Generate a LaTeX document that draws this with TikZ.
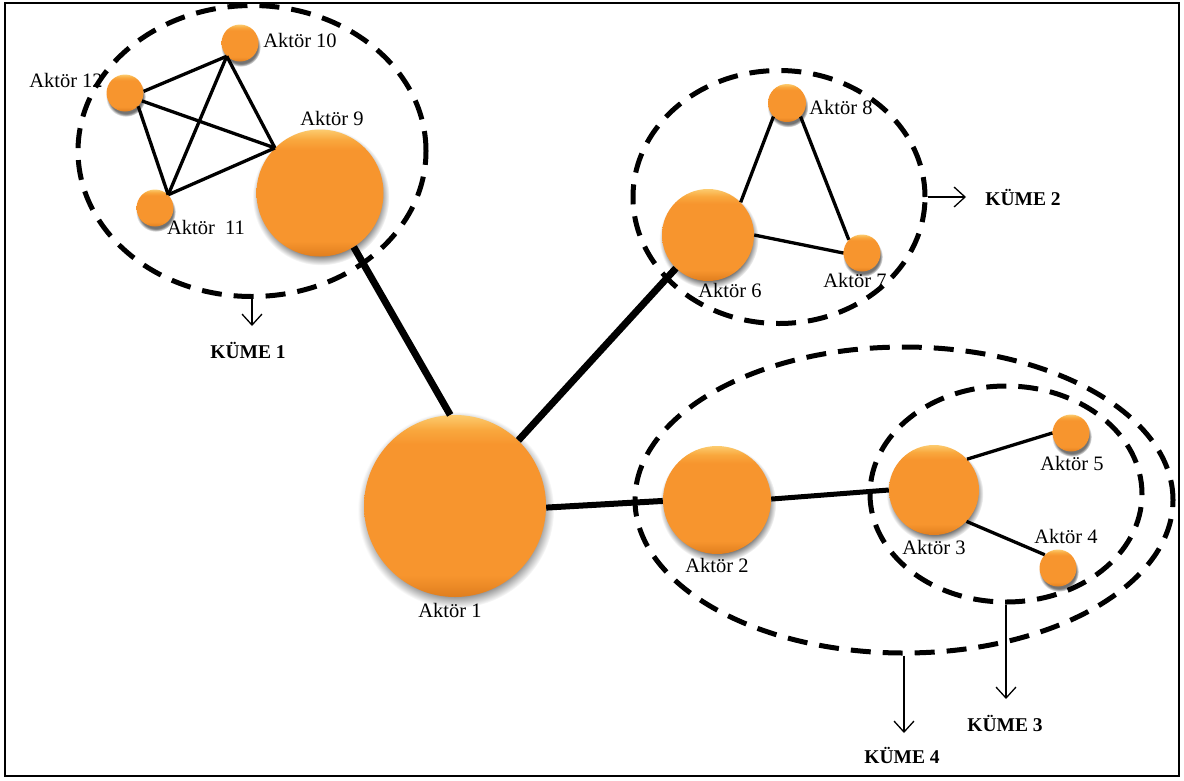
\documentclass[tikz,border=0pt]{standalone}
\usepackage{fontspec}
\setmainfont{Liberation Serif}
\usetikzlibrary{shapes.geometric,arrows.meta,shadows}

\definecolor{orhi}{HTML}{FCCB6E}
\definecolor{orlt}{HTML}{F9A83E}
\definecolor{ormid}{HTML}{F7952E}
\definecolor{ordk}{HTML}{E07E1E}

% body of an actor ball: light bevel on top, slightly darker bottom
\pgfdeclareverticalshading{actorshade}{100bp}{color(0bp)=(ordk); color(25bp)=(ordk); color(31bp)=(ormid); color(67bp)=(ormid); color(71bp)=(orlt); color(75bp)=(orhi); color(100bp)=(orhi)}
% soft grey halo under each ball
\pgfdeclareradialshading{haze}{\pgfpoint{0bp}{0bp}}{color(0bp)=(black!55); color(21bp)=(black!55); color(25bp)=(white); color(50bp)=(white)}

\tikzset{
  actor/.style={circle, inner sep=0pt, minimum size=#1, shading=actorshade,
    general shadow={shading=haze, shadow xshift=0.8pt, shadow yshift=-3.5pt, shadow scale=1.08}},
  lbl/.style={inner sep=0pt, font=\fontsize{20.5}{24}\selectfont},
  kume/.style={inner sep=0pt, font=\bfseries\fontsize{19.5}{23}\selectfont},
  group/.style={ellipse, inner sep=0pt, draw, line width=5pt, dash pattern=on 20pt off 12pt},
  tie/.style={line width=3.3pt},
  strongtie/.style={line width=7pt},
  pointer/.style={line width=1.3pt, -{Straight Barb[length=11pt,width=20pt,line width=1.3pt]}},
}

\begin{document}
\begin{tikzpicture}[x=1pt,y=-1pt]
  \useasboundingbox (0,0) rectangle (1184,780);
  \node[draw, line width=2pt, minimum width=1174pt, minimum height=773pt, inner sep=0pt] (frame) at (592,389.5) {};

  % actors
  \node[actor=182pt] (a1) at (455,506) {};
  \node[actor=108pt] (a2) at (717,500) {};
  \node[actor=90pt]  (a3) at (934,490) {};
  \node[actor=37pt]  (a4) at (1058,568) {};
  \node[actor=37pt]  (a5) at (1071,433) {};
  \node[actor=92pt]  (a6) at (708,235) {};
  \node[actor=37pt]  (a7) at (862,253) {};
  \node[actor=38pt]  (a8) at (787,103) {};
  \node[actor=127pt] (a9) at (320,193) {};
  \node[actor=37pt]  (a10) at (240,43) {};
  \node[actor=37pt]  (a11) at (155,208) {};
  \node[actor=37pt]  (a12) at (125,93) {};

  % actor names
  \node[lbl] (t1) at (450,610) {Aktör 1};
  \node[lbl] (t2) at (717,565) {Aktör 2};
  \node[lbl] (t3) at (934,547) {Aktör 3};
  \node[lbl] (t4) at (1066,536) {Aktör 4};
  \node[lbl] (t5) at (1072,463) {Aktör 5};
  \node[lbl] (t6) at (730,290) {Aktör 6};
  \node[lbl] (t7) at (855,280) {Aktör 7};
  \node[lbl] (t8) at (841,107) {Aktör 8};
  \node[lbl] (t9) at (332,118) {Aktör 9};
  \node[lbl] (t10) at (300,40) {Aktör 10};
  \node[lbl] (t11) at (206,227) {Aktör \ 11};
  \node[lbl] (t12) at (66,80) {Aktör 12};

  % ties inside the first group
  \draw[tie] (a12.5) -- (a10.225);
  \draw[tie] (a12.-25) -- (a9.135);
  \draw[tie] (a12.-45) -- (a11.45);
  \draw[tie] (a10.225) -- (a11.45);
  \draw[tie] (a10.225) -- (a9.135);
  \draw[tie] (a11.45) -- (a9.135);

  % ties inside the second group
  \draw[tie] (a8.225) -- (a6.45);
  \draw[tie] (a8.-45) -- (a7.135);
  \draw[tie] (a6.0) -- (a7.180);

  % ties around actor 3
  \draw[tie] (a3.43) -- (a5.180);
  \draw[tie] (a3.-44) -- (a4.135);

  % strong ties
  \draw[strongtie] (a9.-58) -- (a1.93);
  \draw[strongtie] (a1.46) -- (a6.226);
  \draw[line width=6pt] (a1.-1) -- (a2.181);
  \draw[line width=5pt] (a2.1) -- (a3.180);

  % groups
  \node[group, minimum width=348pt, minimum height=291pt] (k1) at (252,151) {};
  \node[group, minimum width=292pt, minimum height=253pt] (k2) at (779,197) {};
  \node[group, minimum width=538pt, minimum height=306pt] (k4) at (904,500) {};
  \node[group, minimum width=272pt, minimum height=216pt] (k3) at (1006,494) {};

  % group names and pointers
  \node[kume] (n1) at (248,350) {KÜME 1};
  \node[kume] (n2) at (1023,197) {KÜME 2};
  \node[kume] (n3) at (1005,723) {KÜME 3};
  \node[kume] (n4) at (902,755) {KÜME 4};

  \coordinate (p1) at (252,326);
  \coordinate (p2) at (966,197);
  \coordinate (p3) at (1006,699);
  \coordinate (p4) at (904,733);
  \draw[pointer] (k1.south) -- (p1);
  \draw[pointer] (k2.east) -- (p2);
  \draw[pointer] (k3.south) -- (p3);
  \draw[pointer] (k4.south) -- (p4);
\end{tikzpicture}
\end{document}
